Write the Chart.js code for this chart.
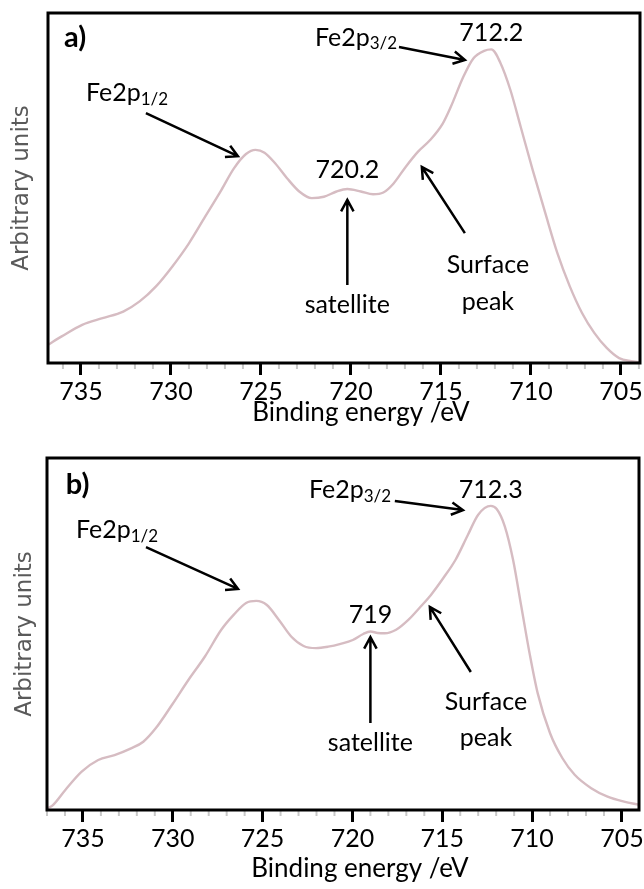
<!DOCTYPE html>
<html>
<head>
<meta charset="utf-8">
<script src="https://cdn.jsdelivr.net/npm/chart.js@4.4.0/dist/chart.umd.min.js"></script>
<style>
  body { margin: 0; background: #fff; }
  canvas { position: absolute; left: 0; }
  #chartA { top: 0; }
  #chartB { top: 440px; }
</style>
</head>
<body>
<canvas id="chartA" width="644" height="440"></canvas>
<canvas id="chartB" width="644" height="449"></canvas>
<script>
var tickValues = [705, 710, 715, 720, 725, 730, 735];

// Fe 2p spectrum, sample a)
var energyA = [736.83, 736.07, 734.93, 733.8, 732.65, 731.74, 730.83, 729.92, 729.0, 728.1,
  727.2, 726.5, 725.83, 725.3, 724.8, 724.2, 723.55, 722.87, 722.18, 721.5,
  720.8, 720.2, 719.45, 718.77, 718.2, 717.63, 716.95, 716.27, 715.6, 714.9,
  714.45, 713.76, 713.2, 712.6, 712.2, 711.7, 711.14, 710.57, 709.9, 709.2,
  708.53, 707.84, 707.16, 706.48, 705.79, 705.1, 704.43, 703.94];
var countsA = [5.2, 7.6, 10.9, 12.8, 14.7, 17.6, 21.9, 27.6, 34.2, 41.8,
  49.4, 55.6, 59.7, 60.9, 60.1, 57.0, 52.8, 49.0, 47.1, 47.5,
  49.0, 49.7, 49.0, 48.2, 48.7, 51.3, 56.1, 60.4, 63.7, 68.4,
  73.2, 81.7, 87.0, 89.2, 89.6, 85.8, 78.0, 67.5, 55.1, 42.8,
  31.4, 21.9, 14.3, 8.6, 4.3, 1.4, 0.5, 0.2];

// Fe 2p spectrum, sample b)
var energyB = [736.95, 736.67, 735.98, 735.07, 734.15, 733.24, 732.32, 731.64, 730.95, 730.04,
  729.12, 728.21, 727.3, 726.6, 725.92, 725.35, 724.78, 724.09, 723.41, 722.72,
  722.03, 721.35, 720.66, 719.98, 719.4, 719.0, 718.6, 718.2, 717.57, 716.89,
  716.2, 715.63, 714.94, 714.26, 713.57, 713.0, 712.3, 711.97, 711.52, 711.06,
  710.6, 710.14, 709.69, 709.0, 708.31, 707.63, 706.71, 705.8, 704.88, 704.05];
var countsB = [0.5, 1.4, 5.7, 10.9, 14.2, 15.6, 17.5, 19.4, 23.2, 29.9,
  37.0, 43.6, 51.2, 55.5, 58.8, 59.4, 58.3, 54.0, 49.3, 46.6,
  46.0, 46.4, 47.2, 48.3, 50.0, 50.7, 50.3, 50.2, 51.2, 54.0,
  57.8, 61.1, 65.9, 71.1, 78.2, 83.9, 86.4, 85.5, 80.6, 71.1,
  57.8, 44.5, 33.2, 21.8, 14.7, 10.0, 6.2, 3.8, 2.4, 1.5];

var FONT = 'Lato, "Open Sans", sans-serif';

function arrow(ctx, x1, y1, x2, y2) {
  var a = Math.atan2(y2 - y1, x2 - x1), h = 13;
  ctx.beginPath();
  ctx.moveTo(x1, y1);
  ctx.lineTo(x2, y2);
  ctx.moveTo(x2 - h * Math.cos(a - 0.5), y2 - h * Math.sin(a - 0.5));
  ctx.lineTo(x2, y2);
  ctx.lineTo(x2 - h * Math.cos(a + 0.5), y2 - h * Math.sin(a + 0.5));
  ctx.stroke();
}

// frame, minor ticks, labels and arrows
function notesPlugin(notes) {
  return {
    id: 'notes',
    afterDraw: function (chart) {
      var ctx = chart.ctx, xs = chart.scales.x, ys = chart.scales.y, area = chart.chartArea;
      ctx.save();
      // minor ticks every 1 eV
      ctx.strokeStyle = '#c8c8c8';
      ctx.lineWidth = 2;
      for (var e = Math.ceil(xs.min); e <= xs.max; e++) {
        if (e % 5 === 0) continue;
        var px = xs.getPixelForValue(e);
        ctx.beginPath();
        ctx.moveTo(px, area.bottom + 1);
        ctx.lineTo(px, area.bottom + 6);
        ctx.stroke();
      }
      ctx.strokeStyle = '#000';
      ctx.lineWidth = 3;
      ctx.strokeRect(area.left, area.top, area.right - area.left, area.bottom - area.top);

      ctx.fillStyle = '#000';
      ctx.textBaseline = 'middle';
      notes.texts.forEach(function (t) {
        var x = xs.getPixelForValue(t.x), y = ys.getPixelForValue(t.y);
        var main = (t.bold ? 'bold 29px ' : '25px ') + FONT;
        ctx.font = main;
        var w = ctx.measureText(t.text).width, sw = 0;
        if (t.sub) {
          ctx.font = '17px ' + FONT;
          sw = ctx.measureText(t.sub).width;
        }
        var left = t.align === 'center' ? x - (w + sw) / 2 : x;
        ctx.textAlign = 'left';
        ctx.font = main;
        ctx.fillText(t.text, left, y);
        if (t.sub) {
          ctx.font = '17px ' + FONT;
          ctx.fillText(t.sub, left + w, y + 6);
        }
      });
      ctx.lineWidth = 2.5;
      notes.arrows.forEach(function (a) {
        arrow(ctx, xs.getPixelForValue(a[0]), ys.getPixelForValue(a[1]),
          xs.getPixelForValue(a[2]), ys.getPixelForValue(a[3]));
      });

      // axis titles
      ctx.textAlign = 'center';
      ctx.font = '26px ' + FONT;
      ctx.fillText('Binding energy /eV', (area.left + area.right) / 2 + 17, notes.titleY);
      ctx.translate(notes.yTitleX, (area.top + area.bottom) / 2);
      ctx.rotate(-Math.PI / 2);
      ctx.fillStyle = '#5a5a5a';
      ctx.font = '23px "DejaVu Sans", sans-serif';
      ctx.fillText('Arbitrary units', 0, 0);
      ctx.restore();
    }
  };
}

function makeChart(id, energy, counts, xMin, xMax, pad, notes) {
  var pts = energy.map(function (e, i) { return { x: e, y: counts[i] }; });
  return new Chart(document.getElementById(id), {
    type: 'line',
    data: {
      datasets: [{
        data: pts,
        borderColor: 'rgb(214,188,194)',
        borderWidth: 2.4,
        pointRadius: 0,
        fill: false,
        cubicInterpolationMode: 'monotone'
      }]
    },
    options: {
      responsive: false,
      animation: false,
      layout: { padding: { left: 0, top: pad.top, right: pad.right, bottom: 0 } },
      plugins: { legend: { display: false }, tooltip: { enabled: false } },
      scales: {
        x: {
          type: 'linear',
          reverse: true,
          min: xMin,
          max: xMax,
          afterBuildTicks: function (s) { s.ticks = tickValues.map(function (v) { return { value: v }; }); },
          afterFit: function (s) { s.height = pad.xHeight; },
          border: { display: false },
          grid: { drawOnChartArea: false, drawTicks: true, tickLength: 12, tickWidth: 3, tickColor: '#000' },
          ticks: { color: '#000', padding: 2, maxRotation: 0, font: { family: FONT, size: 25 } }
        },
        y: {
          min: 0,
          max: 100,
          afterFit: function (s) { s.width = pad.left; },
          border: { display: false },
          grid: { display: false },
          ticks: { display: false }
        }
      }
    },
    plugins: [notesPlugin(notes)]
  });
}

makeChart('chartA', energyA, countsA, 703.94, 736.83,
  { top: 13, right: 4, left: 48, xHeight: 77 },
  {
    titleY: 413,
    yTitleX: 22,
    texts: [
      { x: 735.94, y: 93.1, text: 'a)', bold: true },
      { x: 722.0, y: 92.9, text: 'Fe2p', sub: '3/2' },
      { x: 712.2, y: 94.3, text: '712.2', align: 'center' },
      { x: 734.72, y: 77.1, text: 'Fe2p', sub: '1/2' },
      { x: 720.2, y: 55.1, text: '720.2', align: 'center' },
      { x: 720.2, y: 16.6, text: 'satellite', align: 'center' },
      { x: 712.39, y: 28.0, text: 'Surface', align: 'center' },
      { x: 712.39, y: 17.4, text: 'peak', align: 'center' }
    ],
    arrows: [
      [717.33, 90.3, 713.67, 86.6],
      [731.39, 71.4, 726.28, 59.1],
      [720.2, 22.3, 720.2, 46.6],
      [713.67, 37.1, 716.06, 56.0]
    ]
  });

makeChart('chartB', energyB, countsB, 704.05, 737.0,
  { top: 18, right: 5, left: 47, xHeight: 79 },
  {
    titleY: 429,
    yTitleX: 25,
    texts: [
      { x: 735.95, y: 92.3, text: 'b)', bold: true },
      { x: 722.42, y: 90.9, text: 'Fe2p', sub: '3/2' },
      { x: 712.3, y: 90.9, text: '712.3', align: 'center' },
      { x: 735.39, y: 79.5, text: 'Fe2p', sub: '1/2' },
      { x: 719.0, y: 55.4, text: '719', align: 'center' },
      { x: 719.0, y: 19.0, text: 'satellite', align: 'center' },
      { x: 712.57, y: 30.7, text: 'Surface', align: 'center' },
      { x: 712.57, y: 20.5, text: 'peak', align: 'center' }
    ],
    arrows: [
      [717.64, 87.8, 713.85, 85.2],
      [731.49, 74.7, 726.37, 62.8],
      [719.0, 24.7, 719.0, 49.1],
      [713.41, 39.2, 715.69, 57.7]
    ]
  });
</script>
</body>
</html>
